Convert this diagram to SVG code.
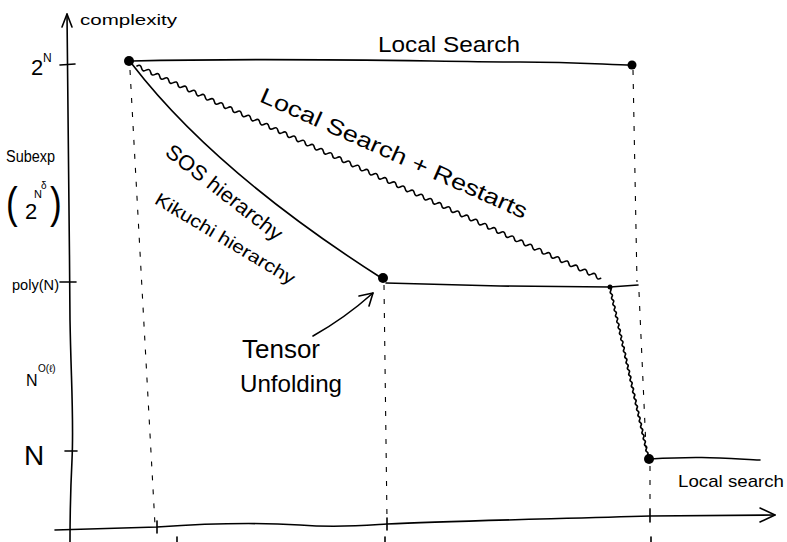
<svg xmlns="http://www.w3.org/2000/svg" width="787" height="542" viewBox="0 0 787 542">
<style>
.ln{fill:none;stroke:#000;stroke-width:1.6;stroke-linecap:round;stroke-linejoin:round}
.dash{fill:none;stroke:#000;stroke-width:1.1;stroke-dasharray:5 9}
.dot{fill:#000}
.t{font-family:"Liberation Sans","DejaVu Sans",sans-serif;fill:#000}
</style>
<rect width="787" height="542" fill="#fff"/>
<g id="axes">
<path class="ln" d="M67,14 C68,60 69,200 70,320 C71,380 74,420 72,460 C70,500 70,520 70,542"/>
<polyline class="ln" points="62,27 67,14 72,27"/>
<path class="ln" d="M55,530 L157,527 C200,524 250,522 300,525 C340,528 370,525 387,524 C450,521 550,519 650,516 L775,515"/>
<polyline class="ln" points="760,508 775,515 760,522"/>
<line class="ln" x1="60" y1="65" x2="75" y2="64"/>
<line class="ln" x1="60" y1="282" x2="76" y2="282"/>
<line class="ln" x1="65" y1="451" x2="77" y2="451"/>
<line class="ln" x1="157" y1="521" x2="157" y2="533"/>
<line class="ln" x1="387" y1="518" x2="387" y2="530"/>
<line class="ln" x1="650" y1="510" x2="650" y2="522"/>
<line class="ln" x1="177" y1="537" x2="177" y2="542"/>
<line class="ln" x1="385" y1="537" x2="385" y2="542"/>
<line class="ln" x1="651" y1="537" x2="651" y2="542"/>
</g>
<g id="axis-labels">
<text class="t" x="80" y="25" font-size="15" textLength="97" lengthAdjust="spacingAndGlyphs">complexity</text>
<text class="t" x="31" y="75" font-size="22">2</text>
<text class="t" x="43" y="62" font-size="12">N</text>
<text class="t" x="6" y="162" font-size="16" textLength="49" lengthAdjust="spacingAndGlyphs">Subexp</text>
<text class="t" x="6" y="218" font-size="44" transform="translate(6,218) scale(0.8,1) translate(-6,-218)">(</text>
<text class="t" x="50" y="218" font-size="44" transform="translate(50,218) scale(0.8,1) translate(-50,-218)">)</text>
<text class="t" x="25" y="219" font-size="22">2</text>
<text class="t" x="34" y="198" font-size="11">N</text>
<text class="t" x="41" y="189" font-size="10">δ</text>
<text class="t" x="12" y="290" font-size="15" textLength="47" lengthAdjust="spacingAndGlyphs">poly(N)</text>
<text class="t" x="26" y="386" font-size="16">N</text>
<text class="t" x="38" y="372" font-size="10">O(ℓ)</text>
<text class="t" x="24" y="465" font-size="28">N</text>
</g>
<g id="connectors">
<path class="dash" d="M130,70 L155,525"/>
<path class="dash" d="M384,285 L387,520"/>
<path class="dash" d="M633,70 L637,282"/>
<path class="dash" d="M639,292 L646,448"/>
<path class="dash" d="M650,466 L650,510"/>
<path class="ln" d="M132,61 C300,57 440,62 520,62 C580,62 610,65 632,65"/>
<path class="ln" d="M132,64 Q215,172 383,279"/>
<path class="ln" d="M386,283 L500,286 L610,287 L638,285"/>
<path class="ln" d="M650,459 C700,456 720,458 760,460"/>
<g transform="translate(137,66) rotate(24.6)">
<path class="ln" stroke-width="1.3" d="M0,0 q2.5,-3.5 5,0 t5,0 t5,0 t5,0 t5,0 t5,0 t5,0 t5,0 t5,0 t5,0 t5,0 t5,0 t5,0 t5,0 t5,0 t5,0 t5,0 t5,0 t5,0 t5,0 t5,0 t5,0 t5,0 t5,0 t5,0 t5,0 t5,0 t5,0 t5,0 t5,0 t5,0 t5,0 t5,0 t5,0 t5,0 t5,0 t5,0 t5,0 t5,0 t5,0 t5,0 t5,0 t5,0 t5,0 t5,0 t5,0 t5,0 t5,0 t5,0 t5,0 t5,0 t5,0 t5,0 t5,0 t5,0 t5,0 t5,0 t5,0 t5,0 t5,0 t5,0 t5,0 t5,0 t5,0 t5,0 t5,0 t5,0 t5,0 t5,0 t5,0 t5,0 t5,0 t5,0 t5,0 t5,0 t5,0 t5,0 t5,0 t5,0 t5,0 t5,0 t5,0 t5,0 t5,0 t5,0 t5,0 t5,0 t5,0 t5,0 t5,0 t5,0 t5,0 t5,0 t5,0 t5,0 t5,0 t5,0 t5,0 t5,0 t5,0 t5,0 t5,0"/>
</g>
<g transform="translate(610,288) rotate(77.3)">
<path class="ln" stroke-width="2.4" d="M0,0 q1.5,-1.5 3,0 t3,0 t3,0 t3,0 t3,0 t3,0 t3,0 t3,0 t3,0 t3,0 t3,0 t3,0 t3,0 t3,0 t3,0 t3,0 t3,0 t3,0 t3,0 t3,0 t3,0 t3,0 t3,0 t3,0 t3,0 t3,0 t3,0 t3,0 t3,0 t3,0 t3,0 t3,0 t3,0 t3,0 t3,0 t3,0 t3,0 t3,0 t3,0 t3,0 t3,0 t3,0 t3,0 t3,0 t3,0 t3,0 t3,0 t3,0 t3,0 t3,0 t3,0 t3,0 t3,0 t3,0 t3,0 t3,0 t3,0"/>
</g>
<path class="ln" d="M313,336 Q345,318 373,293"/>
<polyline class="ln" points="359,296 373,293 369,306"/>
</g>
<g id="node-start"><circle class="dot" cx="129" cy="61" r="5"/></g>
<g id="node-top-right"><circle class="dot" cx="632" cy="65" r="4.5"/></g>
<g id="node-tensor"><circle class="dot" cx="383" cy="278" r="5"/></g>
<g id="node-restart-end"><circle class="dot" cx="610" cy="287" r="2.5"/></g>
<g id="node-bottom"><circle class="dot" cx="649" cy="459" r="5"/></g>
<g id="labels">
<text class="t" x="378" y="52" font-size="22" textLength="142" lengthAdjust="spacingAndGlyphs">Local Search</text>
<text class="t" text-anchor="middle" font-size="22" textLength="290" lengthAdjust="spacingAndGlyphs" transform="translate(391,160) rotate(24)">Local Search + Restarts</text>
<text class="t" text-anchor="middle" font-size="21" textLength="142" lengthAdjust="spacingAndGlyphs" transform="translate(220,198) rotate(38)">SOS hierarchy</text>
<text class="t" text-anchor="middle" font-size="18" textLength="160" lengthAdjust="spacingAndGlyphs" transform="translate(222,244) rotate(31)">Kikuchi hierarchy</text>
<text class="t" x="242" y="358" font-size="26" textLength="78" lengthAdjust="spacingAndGlyphs">Tensor</text>
<text class="t" x="240" y="392" font-size="24" textLength="102" lengthAdjust="spacingAndGlyphs">Unfolding</text>
<text class="t" x="678" y="487" font-size="17" textLength="106" lengthAdjust="spacingAndGlyphs">Local search</text>
</g>
</svg>
